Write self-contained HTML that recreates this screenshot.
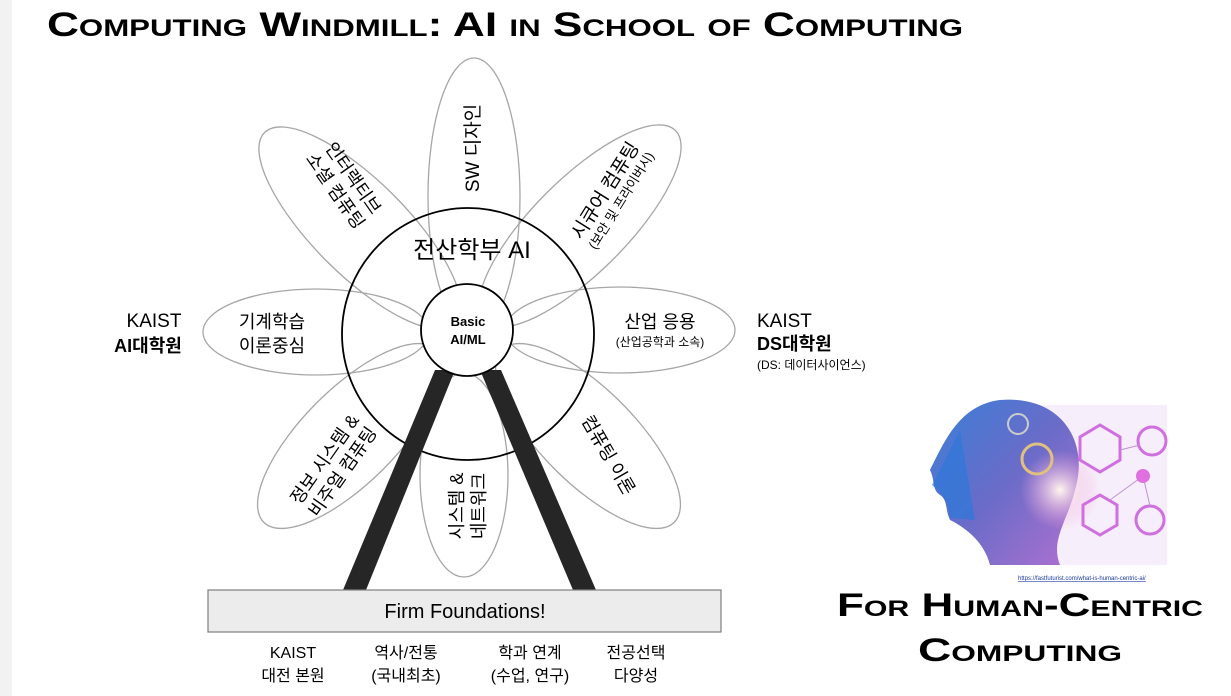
<!DOCTYPE html>
<html><head><meta charset="utf-8"><style>
body{margin:0;background:#fff;}
svg{display:block;font-family:"Liberation Sans","Noto Sans CJK KR",sans-serif;}
</style></head><body>
<svg width="1231" height="696" viewBox="0 0 1231 696">
<defs>
<linearGradient id="head" x1="0" y1="0" x2="1" y2="1">
<stop offset="0" stop-color="#3a7fd8"/><stop offset="0.5" stop-color="#6a6cc8"/><stop offset="1" stop-color="#b070d0"/></linearGradient>
<radialGradient id="glow" cx="0.5" cy="0.5" r="0.5"><stop offset="0" stop-color="#fff6f0"/><stop offset="1" stop-color="#f0a0d8" stop-opacity="0"/></radialGradient>
</defs>
<rect width="12" height="696" fill="#f2f2f2"/>
<text x="47" y="36" font-size="34" font-weight="bold" style="font-variant:small-caps" textLength="916" lengthAdjust="spacingAndGlyphs">Computing Windmill: AI in School of Computing</text>

<g fill="none" stroke="#a6a6a6" stroke-width="1.3">
<ellipse cx="474" cy="196" rx="46" ry="138"/>
<ellipse cx="316" cy="332" rx="113" ry="43"/>
<ellipse cx="620" cy="330" rx="115" ry="43"/>
<ellipse cx="464" cy="475" rx="44" ry="102"/>
<ellipse cx="0" cy="0" rx="135" ry="47" transform="translate(360,228) rotate(45)"/>
<ellipse cx="0" cy="0" rx="135" ry="47" transform="translate(580,226) rotate(-45)"/>
<ellipse cx="0" cy="0" rx="122" ry="47" transform="translate(350,436) rotate(-45)"/>
<ellipse cx="0" cy="0" rx="122" ry="47" transform="translate(588,436) rotate(45)"/>
</g>
<circle cx="468" cy="334" r="126" fill="none" stroke="#000" stroke-width="1.8"/>
<polygon points="435,370 455,370 366,590 343,590" fill="#262626"/>
<polygon points="480,370 501,370 596,590 573,590" fill="#262626"/>
<circle cx="467" cy="330" r="46" fill="#fff" stroke="#000" stroke-width="1.8"/>
<text x="468" y="326" font-size="13" font-weight="bold" text-anchor="middle">Basic</text>
<text x="468" y="344" font-size="13" font-weight="bold" text-anchor="middle">AI/ML</text>
<text x="472" y="258" font-size="24" text-anchor="middle">전산학부 AI</text>

<text font-size="19" text-anchor="middle" transform="translate(479,148) rotate(-90)">SW 디자인</text>
<g font-size="18" text-anchor="middle" transform="translate(345,184) rotate(55)">
<text x="0" y="-4">인터랙티브</text><text x="0" y="18">소셜 컴퓨팅</text></g>
<g text-anchor="middle" transform="translate(614,196) rotate(-58)">
<text x="0" y="-4" font-size="19">시큐어 컴퓨팅</text><text x="0" y="13" font-size="13">(보안 및 프라이버시)</text></g>
<g font-size="18" text-anchor="middle"><text x="272" y="328">기계학습</text><text x="272" y="352">이론중심</text></g>
<text x="660" y="328" font-size="18" text-anchor="middle">산업 응용</text>
<text x="660" y="346" font-size="12" text-anchor="middle">(산업공학과 소속)</text>
<g font-size="18" text-anchor="middle" transform="translate(333,465) rotate(-55)">
<text x="0" y="-4">정보 시스템 &amp;</text><text x="0" y="18">비주얼 컴퓨팅</text></g>
<text font-size="18" text-anchor="middle" transform="translate(603,458) rotate(60)">컴퓨팅 이론</text>
<g font-size="18" text-anchor="middle" transform="translate(466,506) rotate(-90)">
<text x="0" y="-3">시스템 &amp;</text><text x="0" y="19">네트워크</text></g>

<g font-size="19" text-anchor="middle"><text x="154" y="327">KAIST</text><text x="148" y="352" font-weight="bold" font-size="18">AI대학원</text></g>
<text x="757" y="327" font-size="19">KAIST</text>
<text x="757" y="350" font-size="18" font-weight="bold">DS대학원</text>
<text x="757" y="369" font-size="12">(DS: 데이터사이언스)</text>

<rect x="208" y="590" width="513" height="42" fill="#ececec" stroke="#7f7f7f" stroke-width="1.2"/>
<text x="465" y="618" font-size="20" text-anchor="middle">Firm Foundations!</text>
<g font-size="16" text-anchor="middle">
<text x="293" y="658">KAIST</text><text x="293" y="681">대전 본원</text>
<text x="406" y="658">역사/전통</text><text x="406" y="681">(국내최초)</text>
<text x="530" y="658">학과 연계</text><text x="530" y="681">(수업, 연구)</text>
<text x="636" y="658">전공선택</text><text x="636" y="681">다양성</text></g>

<g>
<rect x="1030" y="405" width="137" height="160" fill="#f6eefa"/>
<path d="M1000,400 C1060,395 1090,440 1075,490 C1068,520 1050,540 1060,565 L990,565 C985,545 970,530 950,520 C945,510 948,500 940,495 C932,490 935,480 930,470 C945,440 960,405 1000,400 Z" fill="url(#head)"/>
<path d="M960,430 C950,450 940,470 932,485 C945,495 948,505 950,518 L975,520 Z" fill="#2f78d8" opacity="0.7"/>
<circle cx="1060" cy="490" r="40" fill="url(#glow)"/>
<g fill="none" stroke="#d070e0" stroke-width="3">
<circle cx="1152" cy="441" r="14"/><circle cx="1150" cy="520" r="14"/>
<polygon points="1100,425 1120,437 1120,460 1100,472 1080,460 1080,437"/>
<polygon points="1100,495 1117,505 1117,525 1100,535 1083,525 1083,505"/></g>
<g stroke="#c090d8" stroke-width="1"><line x1="1120" y1="450" x2="1140" y2="445"/><line x1="1143" y1="476" x2="1110" y2="500"/><line x1="1143" y1="476" x2="1150" y2="506"/></g>
<circle cx="1143" cy="476" r="7" fill="#e070e0"/>
<circle cx="1037" cy="459" r="15" fill="none" stroke="#e0c080" stroke-width="3"/>
<circle cx="1018" cy="424" r="10" fill="none" stroke="#ccc" stroke-width="2"/>
<text x="1018" y="580" font-size="6" fill="#1a3aa0" text-decoration="underline">https://fastfuturist.com/what-is-human-centric-ai/</text>
</g>
<g font-size="32" font-weight="bold" text-anchor="middle" style="font-variant:small-caps">
<text x="1020" y="616" textLength="366" lengthAdjust="spacingAndGlyphs">For Human-Centric</text>
<text x="1020" y="661" textLength="204" lengthAdjust="spacingAndGlyphs">Computing</text></g>
</svg>
</body></html>
